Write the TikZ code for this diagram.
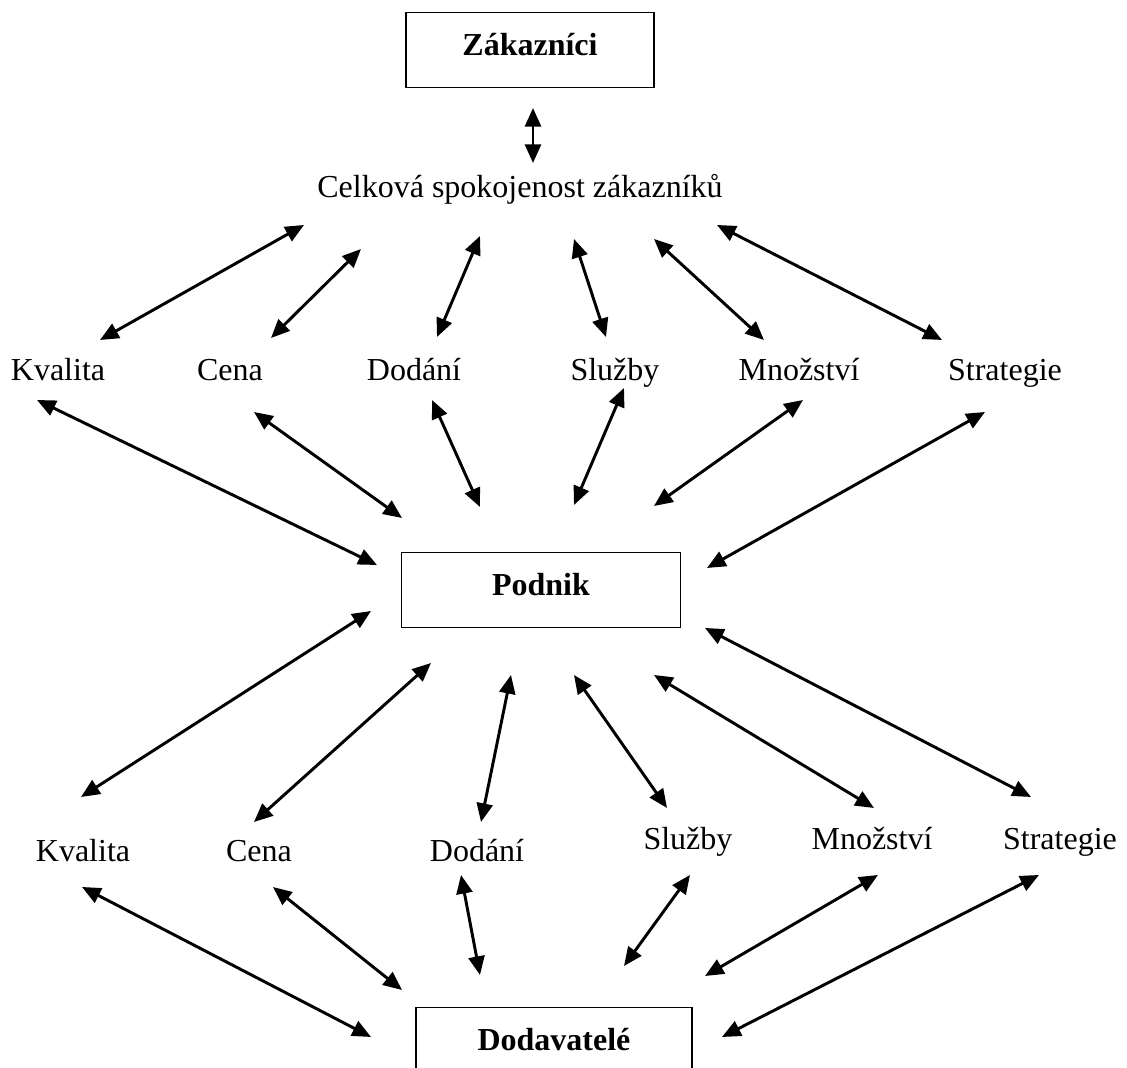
\documentclass[tikz,border=0pt]{standalone}
\usepackage{fontspec}
\setmainfont{Liberation Serif}
\usetikzlibrary{arrows.meta}

\tikzset{
  box/.style={draw, line width=0.6pt, minimum height=28pt, text height=8.5pt, text depth=4pt,
    font=\fontsize{12}{14}\selectfont\bfseries},
  factor/.style={anchor=base, inner sep=0pt},
  link/.style={line width=1.1pt, {Triangle[length=7pt,width=6pt]}-{Triangle[length=7pt,width=6pt]}}
}

\begin{document}
\begin{tikzpicture}[x=0.375pt, y=-0.375pt, font=\fontsize{12}{14}\selectfont]
		\path[use as bounding box, clip] (0,0) rectangle (1127,1068);

		\node[box, minimum width=93pt] (zak) at (530,50) {Zákazníci};
		\node[factor] (celk) at (520,198) {Celková spokojenost zákazníků};

		\node[factor] (kv1) at (58,381) {Kvalita};
		\node[factor] (ce1) at (230,381) {Cena};
		\node[factor] (do1) at (414,381) {Dodání};
		\node[factor] (sl1) at (615,381) {Služby};
		\node[factor] (mn1) at (799,381) {Množství};
		\node[factor] (st1) at (1005,381) {Strategie};

		\node[box, minimum width=104.6pt] (pod) at (541,590) {Podnik};

		\node[factor] (kv2) at (83,862) {Kvalita};
		\node[factor] (ce2) at (259,862) {Cena};
		\node[factor] (do2) at (477,862) {Dodání};
		\node[factor] (sl2) at (688,850) {Služby};
		\node[factor] (mn2) at (872,850) {Množství};
		\node[factor] (st2) at (1060,850) {Strategie};

		\node[box, minimum width=103.5pt] (dod) at (554,1045) {Dodavatelé};

		\draw[link] ([shift={(3,58)}]zak.center) -- ([shift={(13,-35)}]celk.base);

		\draw[link] ([shift={(42,-41)}]kv1.base) -- ([shift={(-216,27)}]celk.base);
		\draw[link] ([shift={(41,-43)}]ce1.base) -- ([shift={(-159,51)}]celk.base);
		\draw[link] ([shift={(23,-44)}]do1.base) -- ([shift={(-40,38)}]celk.base);
		\draw[link] ([shift={(-9,-44)}]sl1.base) -- ([shift={(54,41)}]celk.base);
		\draw[link] ([shift={(-35,-41)}]mn1.base) -- ([shift={(134,41)}]celk.base);
		\draw[link] ([shift={(-63,-41)}]st1.base) -- ([shift={(197,27)}]celk.base);

		\draw[link] ([shift={(-21,19)}]kv1.base) -- ([shift={(-164,-25)}]pod.center);
		\draw[link] ([shift={(24,31)}]ce1.base) -- ([shift={(-139,-72)}]pod.center);
		\draw[link] ([shift={(18,19)}]do1.base) -- ([shift={(-61,-83)}]pod.center);
		\draw[link] ([shift={(9,7)}]sl1.base) -- ([shift={(33,-85)}]pod.center);
		\draw[link] ([shift={(4,19)}]mn1.base) -- ([shift={(113,-84)}]pod.center);
		\draw[link] ([shift={(-20,31)}]st1.base) -- ([shift={(166,-22)}]pod.center);

		\draw[link] ([shift={(-170,21)}]pod.center) -- ([shift={(-2,-65)}]kv2.base);
		\draw[link] ([shift={(-110,73)}]pod.center) -- ([shift={(-5,-40)}]ce2.base);
		\draw[link] ([shift={(-30,85)}]pod.center) -- ([shift={(4,-40)}]do2.base);
		\draw[link] ([shift={(33,85)}]pod.center) -- ([shift={(-21,-42)}]sl2.base);
		\draw[link] ([shift={(113,85)}]pod.center) -- ([shift={(2,-42)}]mn2.base);
		\draw[link] ([shift={(164,38)}]pod.center) -- ([shift={(-29,-53)}]st2.base);

		\draw[link] ([shift={(-1,25)}]kv2.base) -- ([shift={(-183,-8)}]dod.center);
		\draw[link] ([shift={(14,25)}]ce2.base) -- ([shift={(-152,-55)}]dod.center);
		\draw[link] ([shift={(-16,13)}]do2.base) -- ([shift={(-74,-70)}]dod.center);
		\draw[link] ([shift={(2,25)}]sl2.base) -- ([shift={(70,-79)}]dod.center);
		\draw[link] ([shift={(6,25)}]mn2.base) -- ([shift={(151,-69)}]dod.center);
		\draw[link] ([shift={(-21,25)}]st2.base) -- ([shift={(168,-8)}]dod.center);
\end{tikzpicture}
\end{document}
